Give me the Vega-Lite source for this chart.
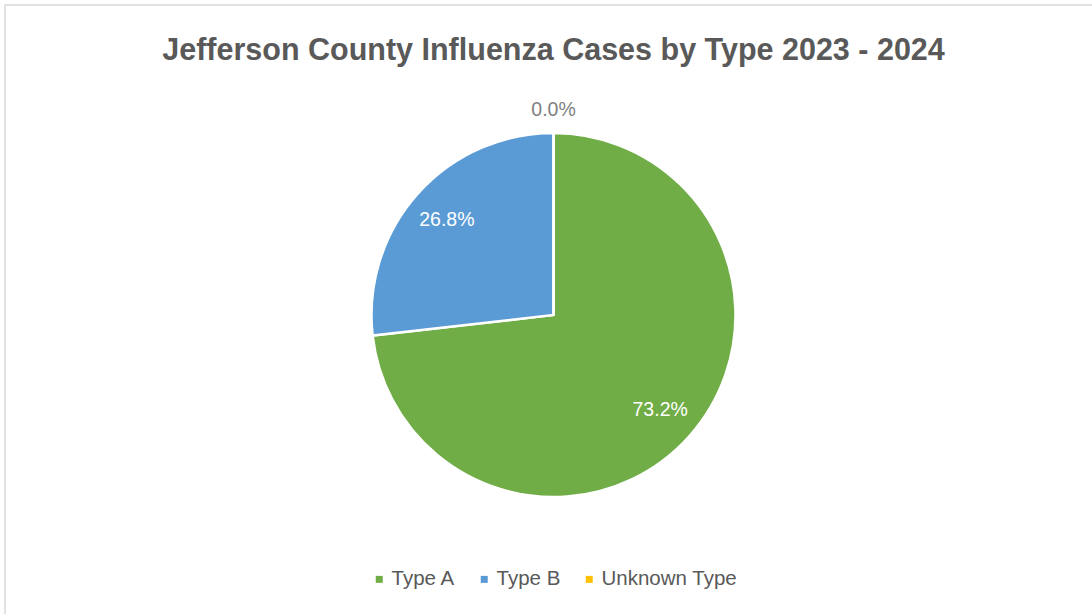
{
  "$schema": "https://vega.github.io/schema/vega-lite/v6.json",
  "width": 1097,
  "height": 620,
  "autosize": {"type": "none"},
  "padding": {"left": 5, "top": 5, "right": 0, "bottom": 0},
  "background": "white",
  "view": {"stroke": "#D9D9D9", "strokeWidth": 1.5},
  "title": {
    "text": "Jefferson County Influenza Cases by Type 2023 - 2024",
    "font": "Liberation Sans",
    "fontSize": 30.5,
    "fontWeight": "bold",
    "color": "#595959",
    "anchor": "middle",
    "baseline": "alphabetic",
    "offset": -85
  },
  "data": {
    "values": [
      {"type": "Type A", "share": 0.732},
      {"type": "Type B", "share": 0.268},
      {"type": "Unknown Type", "share": 0.0}
    ]
  },
  "encoding": {
    "theta": {"field": "share", "type": "quantitative", "stack": true},
    "order": {"field": "type", "sort": "ascending"},
    "color": {
      "field": "type",
      "type": "nominal",
      "scale": {"domain": ["Type A", "Type B", "Unknown Type"], "range": ["#70AD47", "#5B9BD5", "#FFC000"]},
      "legend": {
        "title": null,
        "orient": "bottom",
        "direction": "horizontal",
        "offset": -56,
        "symbolType": "square",
        "symbolSize": 49,
        "symbolStrokeWidth": 0,
        "labelFont": "Liberation Sans",
        "labelFontSize": 20.5,
        "labelColor": "#595959",
        "labelOffset": 2,
        "columnPadding": 18,
        "padding": 0
      }
    }
  },
  "layer": [
    {
      "mark": {"type": "arc", "radius": 182, "stroke": "white", "strokeWidth": 2.5}
    },
    {
      "transform": [{"filter": "datum.share > 0"}],
      "mark": {"type": "text", "radius": 143, "font": "Liberation Sans", "fontSize": 19.5, "align": "center", "baseline": "middle"},
      "encoding": {
        "text": {"field": "share", "type": "quantitative", "format": ".1%"},
        "color": {"value": "white"}
      }
    },
    {
      "transform": [{"filter": "datum.share == 0"}],
      "mark": {"type": "text", "radius": 205, "font": "Liberation Sans", "fontSize": 19.5, "align": "center", "baseline": "middle"},
      "encoding": {
        "text": {"field": "share", "type": "quantitative", "format": ".1%"},
        "color": {"value": "#7F7F7F"}
      }
    }
  ],
  "config": {
    "view": {"stroke": "#D9D9D9", "strokeWidth": 1.5},
    "legend": {"layout": {"bottom": {"anchor": "middle"}}}
  }
}
